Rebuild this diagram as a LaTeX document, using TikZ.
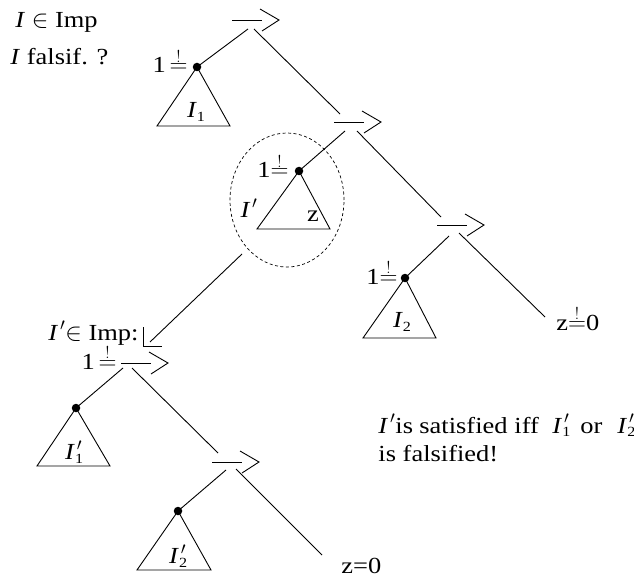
\documentclass[tikz,border=0pt]{standalone}
\usepackage{fontspec}
\setmainfont{Liberation Serif}[FakeStretch=1.15]
\usetikzlibrary{shapes.geometric}
\newcommand\qe{\ensuremath{\stackrel{!}{=}}}
\newcommand\sbs[1]{\raisebox{-0.35ex}{\fontsize{14}{14}\selectfont #1}}
\newcommand\Ii{\textit{I}}
\newcommand\Ip{\textit{I}\kern0.08em$'$}
\newcommand\Is[1]{\textit{I}\rlap{\sbs{#1}}\kern0.08em$'$\kern0.2em}
\newcommand\Ib[1]{\textit{I}\sbs{#1}}
\begin{document}
\begin{tikzpicture}[x=1pt,y=-1pt,line width=0.9pt,
  font=\fontsize{23}{27}\selectfont,
  dot/.style={circle,fill,inner sep=0pt,minimum size=8.5pt},
  txt/.style={inner sep=0pt},
  pics/impl/.style={code={\draw (0,0)--(30,0); \draw (28,-11)--(47,0)--(30,11);}}]
\useasboundingbox (0,0) rectangle (634,577);

% implication symbols
\pic at (232,20) {impl};
\pic at (334,122) {impl};
\pic at (437,225) {impl};
\pic at (121,363) {impl};
\pic at (212,462) {impl};

\coordinate (a1l) at (248,29); \coordinate (a1r) at (254,29);
\coordinate (a2l) at (345,131); \coordinate (a2r) at (357,131);
\coordinate (a3l) at (449,236); \coordinate (a3r) at (459,233);
\coordinate (a4l) at (123,368); \coordinate (a4r) at (132,368);
\coordinate (a5l) at (226,470); \coordinate (a5r) at (236,469);

\coordinate (r1) at (340,114);
\coordinate (r2) at (441,217);
\coordinate (r3) at (545,317);
\coordinate (r4) at (218,453);
\coordinate (r5) at (322,555);

% dots
\node[dot] (d1) at (197,67) {};
\node[dot] (d2) at (299,171) {};
\node[dot] (d3) at (405,278) {};
\node[dot] (d4) at (76,408) {};
\node[dot] (d5) at (178,511) {};

% connectors
\draw (a1l) -- (d1.center);
\draw (a2l) -- (d2.center);
\draw (a3l) -- (d3.center);
\draw (a4l) -- (d4.center);
\draw (a5l) -- (d5.center);
\draw (a1r) -- (r1);
\draw (a2r) -- (r2);
\draw (a3r) -- (r3);
\draw (a4r) -- (r4);
\draw (a5r) -- (r5);

% triangles
\draw (d1.center) -- ++(-40,59) -- ++(73,0) -- cycle;
\draw (d2.center) -- ++(-42,58) -- ++(73,0) -- cycle;
\draw (d3.center) -- ++(-42,60) -- ++(73,0) -- cycle;
\draw (d4.center) -- ++(-39,58) -- ++(73,0) -- cycle;
\draw (d5.center) -- ++(-41,59) -- ++(74,0) -- cycle;

% triangle labels
\node[txt] (l1) at (196,112) {\Ib{1}};
\node[txt] (lp) at (249,208) {\Ip};
\node[txt] (lz) at (313,216) {z};
\node[txt] (l2) at (402,322) {\Ib{2}};
\node[txt] (l4) at (76,452) {\Is{1}};
\node[txt] (l5) at (180,556) {\Is{2}};

% equality labels
\node[txt,anchor=base east] (e1) at (188,73) {1\,\qe};
\node[txt,anchor=base east] (e2) at (289,178) {1\qe};
\node[txt,anchor=base east] (e3) at (398,284) {1\qe};
\node[txt,anchor=base east] (e4) at (117,369) {1\,\qe};
\node[txt,anchor=base west] (z1) at (556,330) {z\qe0};
\node[txt,anchor=base west] (z2) at (341,573) {z=0};

% dashed ellipse and arrow
\node[ellipse,draw,dash pattern=on 3pt off 2.5pt,line width=0.7pt,
      minimum width=114pt,minimum height=134pt,inner sep=0pt] (ell) at (287,200) {};
\coordinate (ls) at (242,254);
\coordinate (le) at (150,342);
\coordinate (lc) at (143,346);
\draw (ls) -- (le);
\draw (lc) ++(0,-19) -- (lc) -- ++(19,0);

% texts
\node[txt,anchor=base west] (t1) at (15,28) {\Ii{} $\in$ Imp};
\node[txt,anchor=base west] (t2) at (10,65) {\Ii{} falsif. ?};
\node[txt,anchor=base west] (t3) at (48,340) {\Ip$\in$ Imp:};
\node[txt,anchor=base west] (t4) at (378,433) {\makebox[17pt][l]{\Ip}\makebox[24pt][l]{is}\makebox[95pt][l]{satisfied}\makebox[38pt][l]{iff}\makebox[28pt][l]{\Is{1}}\makebox[37pt][l]{or}\Is{2}};
\node[txt,anchor=base west] (t5) at (378,461) {is falsified!};
\end{tikzpicture}
\end{document}
